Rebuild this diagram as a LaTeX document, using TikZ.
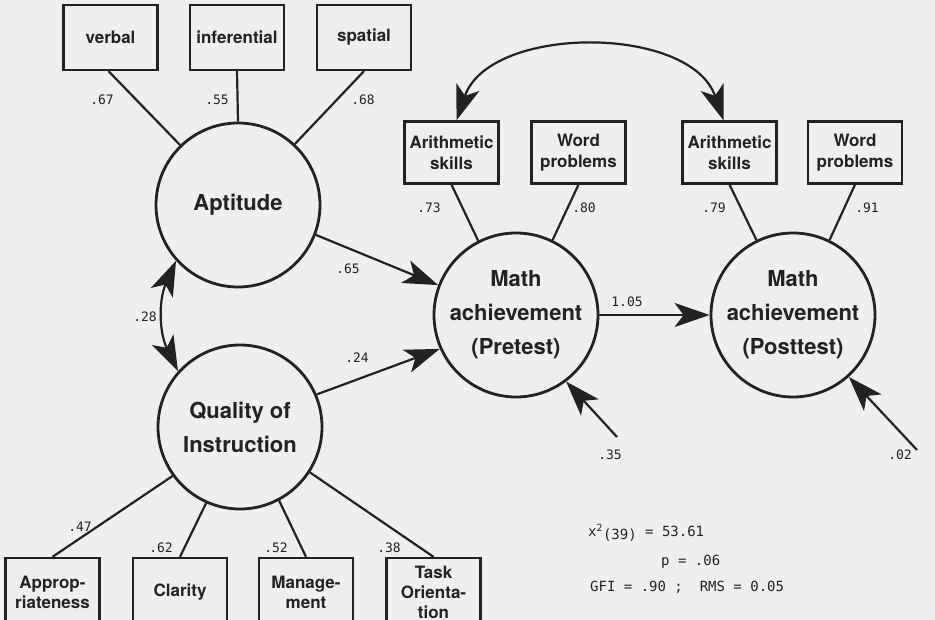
\documentclass[tikz,border=0pt]{standalone}
\usepackage{fontspec}
\setmainfont{TeX Gyre Heros}
\newfontfamily\statfont{DejaVu Sans Mono}
\usetikzlibrary{arrows.meta}
\definecolor{bg}{RGB}{239,239,239}
\definecolor{ink}{RGB}{34,34,34}
\begin{document}
\begin{tikzpicture}[x=1pt,y=-1pt,
  lat/.style={circle, draw=ink, line width=2.8pt, minimum size=164pt, inner sep=0pt, text=ink,
    font=\bfseries\fontsize{22}{34}\selectfont, align=center},
  obs/.style={rectangle, draw=ink, line width=2.3pt, minimum width=94pt, minimum height=62pt, inner sep=0pt, text=ink,
    font=\bfseries\fontsize{17}{21}\selectfont, align=center},
  topbox/.style={obs, minimum height=65pt},
  botbox/.style={obs, minimum height=68pt, font=\bfseries\fontsize{17}{20}\selectfont},
  lbl/.style={font=\statfont\fontsize{13}{15}\selectfont, inner sep=0pt, text=ink},
  stat/.style={font=\statfont\fontsize{14}{16}\selectfont, inner sep=0pt, anchor=west, text=ink},
  con/.style={draw=ink, line width=2.2pt},
  tip/.style={-{Stealth[length=35pt,width=24pt,inset=9pt]}},
  both/.style={{Stealth[length=35pt,width=24pt,inset=9pt]}-{Stealth[length=35pt,width=24pt,inset=9pt]}}
]
\useasboundingbox (0,0) rectangle (935,620);
\fill[bg] (0,0) rectangle (935,620);
\clip (0,0) rectangle (935,620);

% latent variables
\node[lat] (apt)  at (238,205) {Aptitude};
\node[lat] (qual) at (240,427) {Quality of\\Instruction};
\node[lat] (pre)  at (516,315) {Math\\achievement\\(Pretest)};
\node[lat] (post) at (793,315) {Math\\achievement\\(Posttest)};

% observed variables
\node[topbox] (verbal)  at (110.5,37.5) {verbal};
\node[topbox] (infer)   at (237,37.5) {inferential};
\node[topbox] (spatial) at (364,37.5) {spatial};
\node[obs] (arithL) at (451.5,152.5) {Arithmetic\\skills};
\node[obs] (wordL)  at (578.5,152.5) {Word\\problems};
\node[obs] (arithR) at (729.5,152.5) {Arithmetic\\skills};
\node[obs] (wordR)  at (855,152.5) {Word\\problems};
\node[botbox] (approp) at (52.5,592) {Approp-\\riateness};
\node[botbox] (clar)   at (180,592) {Clarity};
\node[botbox] (manag)  at (306,592) {Manage-\\ment};
\node[botbox] (task)   at (433.5,592) {Task\\Orienta-\\tion};

% free ends of disturbance arrows
\coordinate (d1) at (617,437);
\coordinate (d2) at (917,450);

% loadings
\draw[con] ([xshift=-2pt]verbal.south) -- (apt.134);
\draw[con] (infer.south) -- (apt.90);
\draw[con] (spatial.south) -- (apt.47);
\draw[con] (arithL.south) -- (pre.117);
\draw[con] (wordL.south) -- (pre.64);
\draw[con] (arithR.south) -- (post.116);
\draw[con] (wordR.south) -- (post.64);
\draw[con] (qual.216) -- (approp.north);
\draw[con] (qual.246) -- (clar.north);
\draw[con] (qual.298) -- (manag.north);
\draw[con] (qual.327) -- (task.north);

% structural paths
\draw[con,tip] (apt.339) -- (pre.159);
\draw[con,tip] (qual.23) -- (pre.204);
\draw[con,tip] (pre.east) -- (post.west);
\draw[con,tip] (d1) -- (pre.307);
\draw[con,tip] (d2) -- (post.312);
\draw[con,both] (apt.222) to[bend right=25] (qual.138);
\draw[con,both] ([xshift=5pt]arithL.north) .. controls +(33,-96) and +(-33,-96) .. ([xshift=-6pt]arithR.north);

% coefficients
\node[lbl] (l67) at (102,100) {.67};
\node[lbl] (l55) at (217,100) {.55};
\node[lbl] (l68) at (363,100) {.68};
\node[lbl] (l73) at (429,208) {.73};
\node[lbl] (l80) at (584,208) {.80};
\node[lbl] (l79) at (714,208) {.79};
\node[lbl] (l91) at (867,208) {.91};
\node[lbl] (l65) at (348,269) {.65};
\node[lbl] (l24) at (357,358) {.24};
\node[lbl] (l28) at (145,317) {.28};
\node[lbl] (l105) at (627,302) {1.05};
\node[lbl] (l35) at (610,455) {.35};
\node[lbl] (l02) at (900,455) {.02};
\node[lbl] (l47) at (80,527) {.47};
\node[lbl] (l62) at (161,548) {.62};
\node[lbl] (l52) at (276,548) {.52};
\node[lbl] (l38) at (389,548) {.38};

% fit statistics
\node[stat] (chi) at (588,533) {x\textsuperscript{2}\raisebox{-3pt}{(39)} = 53.61};
\node[stat] (pval) at (661,562) {p = .06};
\node[stat] (gfi) at (590,587) {GFI = .90 ;\ \ RMS = 0.05};
\end{tikzpicture}
\end{document}
